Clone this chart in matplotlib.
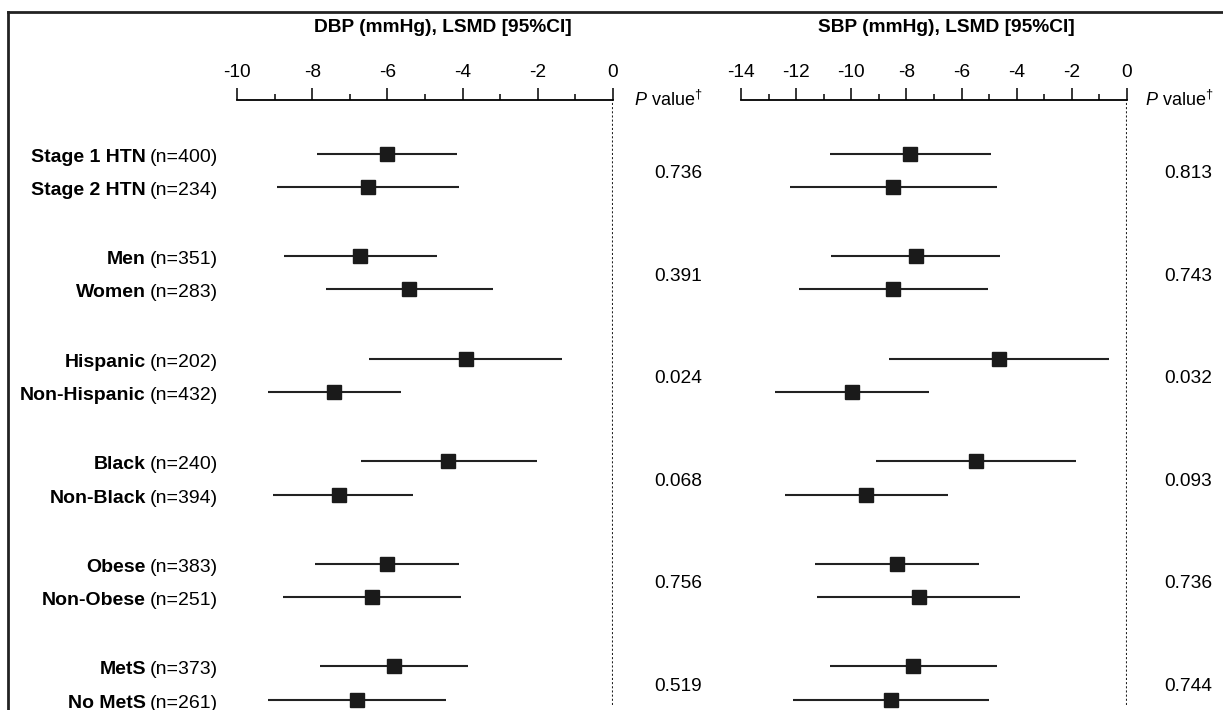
import numpy as np
import matplotlib.pyplot as plt
from matplotlib.transforms import blended_transform_factory
from matplotlib.lines import Line2D

plt.rcParams['font.family'] = ['Liberation Sans', 'DejaVu Sans']
plt.rcParams['mathtext.fontset'] = 'custom'
plt.rcParams['mathtext.rm'] = 'Liberation Sans'
plt.rcParams['mathtext.it'] = 'Liberation Sans:italic'
plt.rcParams['mathtext.bf'] = 'Liberation Sans:bold'

# subgroups (two per comparison)
names = ["Stage 1 HTN", "Stage 2 HTN", "Men", "Women", "Hispanic", "Non-Hispanic",
         "Black", "Non-Black", "Obese", "Non-Obese", "MetS", "No MetS"]
n = [400, 234, 351, 283, 202, 432, 240, 394, 383, 251, 373, 261]

# DBP LSMD with 95% CI
dbp_mean = [-6.02, -6.51, -6.72, -5.42, -3.92, -7.42, -4.40, -7.28, -6.02, -6.41, -5.82, -6.82]
dbp_lo = [-7.88, -8.93, -8.74, -7.63, -6.48, -9.18, -6.71, -9.05, -7.93, -8.78, -7.78, -9.18]
dbp_hi = [-4.15, -4.10, -4.69, -3.18, -1.35, -5.65, -2.03, -5.33, -4.10, -4.05, -3.85, -4.44]

# SBP LSMD with 95% CI
sbp_mean = [-7.86, -8.47, -7.66, -8.47, -4.66, -9.97, -5.47, -9.45, -8.36, -7.55, -7.77, -8.56]
sbp_lo = [-10.79, -12.24, -10.74, -11.89, -8.65, -12.75, -9.09, -12.40, -11.33, -11.25, -10.79, -12.10]
sbp_hi = [-4.93, -4.70, -4.59, -5.03, -0.67, -7.18, -1.84, -6.50, -5.38, -3.87, -4.72, -5.02]

p_dbp = ["0.736", "0.391", "0.024", "0.068", "0.756", "0.519"]
p_sbp = ["0.813", "0.743", "0.032", "0.093", "0.736", "0.744"]

W, H = 1223, 710
fig = plt.figure(figsize=(W / 100, H / 100), dpi=100)


def px_axes(x0, x1, ytop, ybot):
    return fig.add_axes([x0 / W, (H - ybot) / H, (x1 - x0) / W, (ybot - ytop) / H])


# row positions: pairs of rows, groups spaced a bit wider
rows = np.array([g * 3.08 + j for g in range(6) for j in range(2)])
mids = rows.reshape(6, 2).mean(axis=1)

ax1 = px_axes(237, 613, 100, 705)
ax2 = px_axes(741, 1127, 100, 705)

panels = [
    (ax1, dbp_mean, dbp_lo, dbp_hi, (-10, 0), np.arange(-10, 1, 2), np.arange(-9, 0, 2)),
    (ax2, sbp_mean, sbp_lo, sbp_hi, (-14, 0), np.arange(-14, 1, 2), np.arange(-13, 0, 2)),
]
for ax, m, lo, hi, xl, major, minor in panels:
    ax.set_xlim(*xl)
    ax.set_ylim(16.56, -1.61)
    for s in ['left', 'right', 'bottom']:
        ax.spines[s].set_visible(False)
    ax.spines['top'].set_linewidth(1.3)
    ax.xaxis.tick_top()
    ax.set_xticks(major)
    ax.set_xticklabels([str(v) for v in major])
    ax.set_xticks(minor, minor=True)
    ax.tick_params(which='major', direction='out', length=9, width=1.1, pad=5, labelsize=13.8)
    ax.tick_params(which='minor', direction='out', length=4, width=1.1)
    ax.set_yticks([])
    ax.patch.set_visible(False)
    ax.axvline(0, ls=(0, (1, 1)), lw=1.5, color='#222222')
    ax.hlines(rows, lo, hi, lw=1.5, color='#222222', clip_on=False)
    ax.plot(m, rows, 's', ms=9.5, color='#1a1a1a', clip_on=False)

fig.text(443 / W, 1 - 28 / H, "DBP (mmHg), LSMD [95%CI]", ha='center', va='center',
         weight='bold', size=13.8)
fig.text(946 / W, 1 - 28 / H, "SBP (mmHg), LSMD [95%CI]", ha='center', va='center',
         weight='bold', size=13.8)
for xp in [634, 1145]:
    fig.text(xp / W, 1 - 100 / H, r"$\mathit{P}$ value$^{\dagger}$", ha='left', va='center',
             size=13)

tr1 = blended_transform_factory(fig.transFigure, ax1.transData)
tr2 = blended_transform_factory(fig.transFigure, ax2.transData)
base = 0.24

counts = []
for y, cnt in zip(rows, n):
    t = ax1.text(218 / W, y + base, f"(n={cnt})", transform=tr1, ha='right', va='baseline',
                 size=14)
    counts.append(t)

for y, pd_, ps in zip(mids, p_dbp, p_sbp):
    ax1.text(678 / W, y + base, pd_, transform=tr1, ha='center', va='baseline', size=13.8)
    ax2.text(1188 / W, y + base, ps, transform=tr2, ha='center', va='baseline', size=13.8)

fig.canvas.draw()
r = fig.canvas.get_renderer()
for t, y, name in zip(counts, rows, names):
    bb = t.get_window_extent(r)
    ax1.text((bb.x0 - 4) / W, y + base, name, transform=tr1, ha='right', va='baseline',
             size=14, weight='bold')

# outer frame (left and top edges)
fig.add_artist(Line2D([8 / W, 8 / W], [0, 1 - 12 / H], transform=fig.transFigure,
                      lw=2, color='#222222'))
fig.add_artist(Line2D([8 / W, 1], [1 - 12 / H, 1 - 12 / H], transform=fig.transFigure,
                      lw=2, color='#222222'))

fig.savefig("out.png", dpi=100)
